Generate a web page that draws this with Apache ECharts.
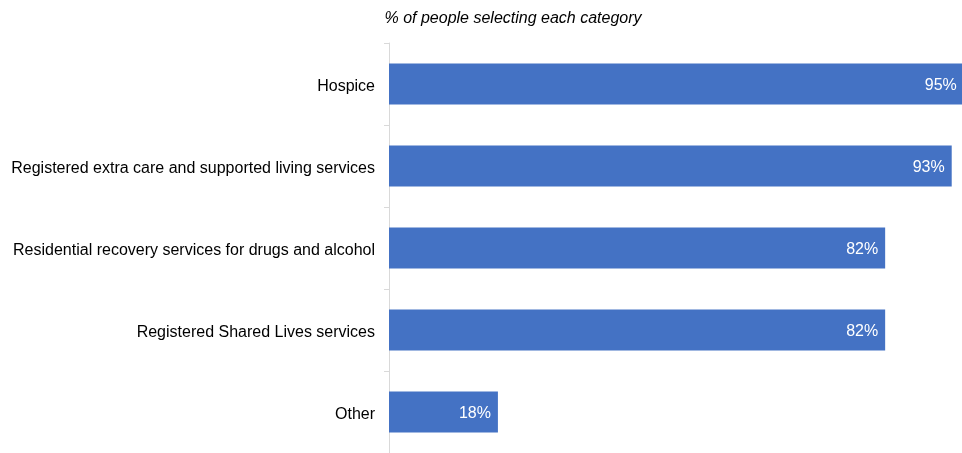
<!DOCTYPE html>
<html>
<head>
<meta charset="utf-8">
<script src="https://cdn.jsdelivr.net/npm/echarts@6/dist/echarts.min.js"></script>
<style>
  html, body { margin: 0; padding: 0; background: #fff; }
  #chart { width: 962px; height: 453px; }
</style>
</head>
<body>
<div id="chart"></div>
<script>
// Service categories, top to bottom
const categories = [
  'Hospice',
  'Registered extra care and supported living services',
  'Residential recovery services for drugs and alcohol',
  'Registered Shared Lives services',
  'Other'
];
// Share of people selecting each category (%)
const values = [95, 93, 82, 82, 18];
const titleText = '% of people selecting each category';

const chart = echarts.init(document.getElementById('chart'), null, { renderer: 'canvas' });

chart.setOption({
  animation: false,
  title: {
    text: titleText,
    left: 508,
    textAlign: 'center',
    top: 6,
    textStyle: {
      fontFamily: 'Liberation Sans, Arial, sans-serif',
      fontStyle: 'italic',
      fontWeight: 'normal',
      fontSize: 16,
      color: '#000'
    }
  },
  grid: { left: 389, right: 0, top: 43, bottom: 0, containLabel: false },
  // scale chosen so the longest bar just runs off the right edge
  xAxis: {
    type: 'value',
    min: 0,
    max: 94.7,
    show: false
  },
  yAxis: {
    type: 'category',
    data: categories,
    inverse: true,
    axisLine: { show: true, lineStyle: { color: '#d9d9d9', width: 1 } },
    axisTick: { show: true, length: 5, lineStyle: { color: '#d9d9d9' } },
    axisLabel: {
      margin: 14,
      formatter: v => '{t|' + v + '}',
      rich: {
        t: {
          padding: [5, 0, 0, 0],
          fontFamily: 'Liberation Sans, Arial, sans-serif',
          fontSize: 16,
          color: '#000'
        }
      }
    }
  },
  series: [{
    type: 'bar',
    data: values,
    barWidth: '50%',
    clip: false,
    itemStyle: { color: '#4472C4' },
    label: {
      show: true,
      position: 'insideRight',
      distance: 7,
      offset: [0, 2],
      formatter: p => p.value + '%',
      fontFamily: 'Liberation Sans, Arial, sans-serif',
      fontSize: 16,
      color: '#fff'
    }
  }]
});
</script>
</body>
</html>
